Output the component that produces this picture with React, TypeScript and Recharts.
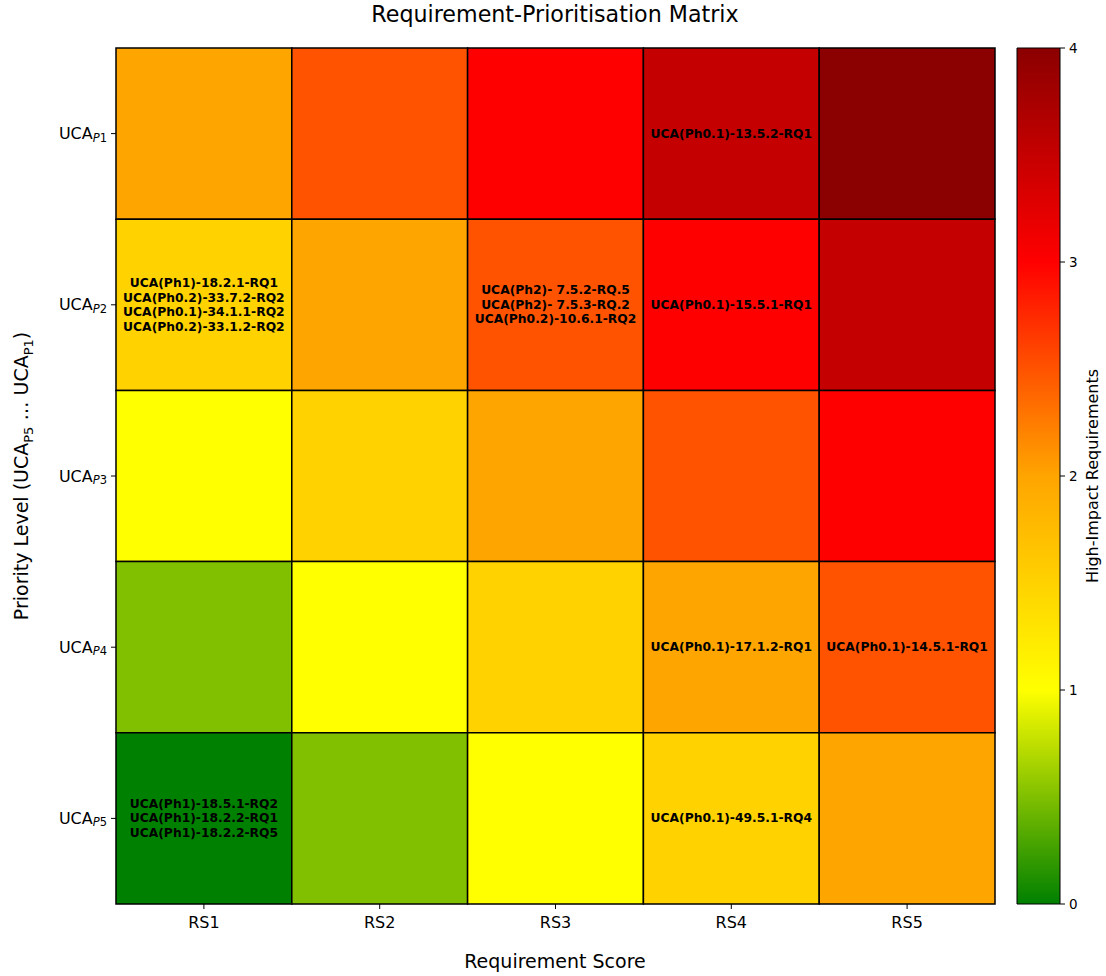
import React from 'react';
import { ComposedChart, XAxis, YAxis, ReferenceArea, Scatter } from 'recharts';

const FONT = "'DejaVu Sans', sans-serif";

// categories
const scoreLabels = ['RS1', 'RS2', 'RS3', 'RS4', 'RS5'];
const priorityLabels = ['P1', 'P2', 'P3', 'P4', 'P5']; // top to bottom

// High-impact requirement values per priority row (RS1..RS5)
const rowP1 = [2, 2.5, 3, 3.5, 4];
const rowP2 = [1.5, 2, 2.5, 3, 3.5];
const rowP3 = [1, 1.5, 2, 2.5, 3];
const rowP4 = [0.5, 1, 1.5, 2, 2.5];
const rowP5 = [0, 0.5, 1, 1.5, 2];
const rows = [rowP1, rowP2, rowP3, rowP4, rowP5];

// annotations: [scoreIndex, priorityIndex, lines]
const annP1RS4 = ['UCA(Ph0.1)-13.5.2-RQ1'];
const annP2RS1 = ['UCA(Ph1)-18.2.1-RQ1', 'UCA(Ph0.2)-33.7.2-RQ2', 'UCA(Ph0.1)-34.1.1-RQ2', 'UCA(Ph0.2)-33.1.2-RQ2'];
const annP2RS3 = ['UCA(Ph2)- 7.5.2-RQ.5', 'UCA(Ph2)- 7.5.3-RQ.2', 'UCA(Ph0.2)-10.6.1-RQ2'];
const annP2RS4 = ['UCA(Ph0.1)-15.5.1-RQ1'];
const annP4RS4 = ['UCA(Ph0.1)-17.1.2-RQ1'];
const annP4RS5 = ['UCA(Ph0.1)-14.5.1-RQ1'];
const annP5RS1 = ['UCA(Ph1)-18.5.1-RQ2', 'UCA(Ph1)-18.2.2-RQ1', 'UCA(Ph1)-18.2.2-RQ5'];
const annP5RS4 = ['UCA(Ph0.1)-49.5.1-RQ4'];
const annotations: [number, number, string[]][] = [
  [3, 0, annP1RS4],
  [0, 1, annP2RS1],
  [2, 1, annP2RS3],
  [3, 1, annP2RS4],
  [3, 3, annP4RS4],
  [4, 3, annP4RS5],
  [0, 4, annP5RS1],
  [3, 4, annP5RS4],
];

const cbTicks = [0, 1, 2, 3, 4];

// colormap stops: green -> yellow -> orange -> red -> darkred
const cmapStops: [number, number, number][] = [
  [0, 128, 0],
  [255, 255, 0],
  [255, 165, 0],
  [255, 0, 0],
  [139, 0, 0],
];

function cmap(v: number): string {
  const t = Math.max(0, Math.min(4, v));
  const i = Math.min(3, Math.floor(t));
  const f = t - i;
  const a = cmapStops[i];
  const b = cmapStops[i + 1];
  const c = a.map((av, k) => Math.round(av + (b[k] - av) * f));
  return `rgb(${c[0]},${c[1]},${c[2]})`;
}

const cells: { x1: number; x2: number; y1: number; y2: number; v: number }[] = [];
rows.forEach((row, p) => {
  row.forEach((v, s) => {
    cells.push({ x1: s, x2: s + 1, y1: 4 - p, y2: 5 - p, v });
  });
});

const labelData = annotations.map(([s, p, lines]) => ({ x: s + 0.5, y: 4.5 - p, lines }));
const cbData = [{ x: 0.5, y: 2 }];

const YTick = (props: any) => {
  const { x, y, payload } = props;
  const idx = Math.round(4.5 - payload.value);
  const lab = priorityLabels[idx] || '';
  return (
    <text x={x} y={y} textAnchor="end" dominantBaseline="central" fontSize={16} fill="#000" fontFamily={FONT}>
      UCA
      <tspan fontSize={11.5} fontStyle="italic" dy={4}>{lab.charAt(0)}</tspan>
      <tspan fontSize={11.5}>{lab.slice(1)}</tspan>
    </text>
  );
};

const LabelShape = (props: any) => {
  const { cx, cy, payload } = props;
  const lines: string[] = payload.lines;
  const lh = 14.6;
  const start = cy - ((lines.length - 1) * lh) / 2;
  return (
    <text textAnchor="middle" fontSize={12.3} fontWeight="bold" fill="#000" fontFamily={FONT}>
      {lines.map((l, i) => (
        <tspan key={i} x={cx} y={start + i * lh} dominantBaseline="central">{l}</tspan>
      ))}
    </text>
  );
};

const NoShape = () => <g />;

export default function App() {
  return (
    <div style={{ position: 'absolute', left: 0, top: 0, width: 1106, height: 976, background: '#fff', fontFamily: FONT }}>
      <div style={{ position: 'absolute', left: 0, top: 0 }}>
        <ComposedChart width={1106} height={976} margin={{ top: 48, right: 111, bottom: 42, left: 56 }} data={labelData}>
          <XAxis
            type="number"
            dataKey="x"
            domain={[0, 5]}
            ticks={[0.5, 1.5, 2.5, 3.5, 4.5]}
            tickFormatter={(v: number) => scoreLabels[Math.round(v - 0.5)]}
            height={30}
            tickSize={5}
            tickMargin={8}
            axisLine={false}
            tickLine={{ stroke: '#000' }}
            tick={{ fontSize: 16, fill: '#000', fontFamily: FONT }}
            allowDataOverflow
          />
          <YAxis
            type="number"
            dataKey="y"
            domain={[0, 5]}
            ticks={[0.5, 1.5, 2.5, 3.5, 4.5]}
            width={60}
            tickSize={5}
            tickMargin={4}
            axisLine={false}
            tickLine={{ stroke: '#000' }}
            tick={<YTick />}
            allowDataOverflow
          />
          {cells.map((c, i) => (
            <ReferenceArea
              key={i}
              x1={c.x1}
              x2={c.x2}
              y1={c.y1}
              y2={c.y2}
              fill={cmap(c.v)}
              fillOpacity={1}
              stroke="#000"
              strokeWidth={1.5}
              ifOverflow="visible"
            />
          ))}
          <Scatter data={labelData} dataKey="y" shape={<LabelShape />} isAnimationActive={false} />
        </ComposedChart>
      </div>
      <div style={{ position: 'absolute', left: 0, top: 0 }}>
        <ComposedChart width={1106} height={976} margin={{ top: 48, right: 0, bottom: 72, left: 1017 }} data={cbData}>
          <defs>
            <linearGradient id="cbGrad" x1="0" y1="0" x2="0" y2="1">
              <stop offset="0" stopColor="rgb(139,0,0)" />
              <stop offset="0.25" stopColor="rgb(255,0,0)" />
              <stop offset="0.5" stopColor="rgb(255,165,0)" />
              <stop offset="0.75" stopColor="rgb(255,255,0)" />
              <stop offset="1" stopColor="rgb(0,128,0)" />
            </linearGradient>
          </defs>
          <XAxis type="number" dataKey="x" domain={[0, 1]} hide />
          <YAxis
            type="number"
            dataKey="y"
            orientation="right"
            domain={[0, 4]}
            ticks={cbTicks}
            width={46}
            tickSize={5}
            tickMargin={4}
            axisLine={false}
            tickLine={{ stroke: '#000' }}
            tick={{ fontSize: 13.5, fill: '#000', fontFamily: FONT }}
          />
          <ReferenceArea x1={0} x2={1} y1={0} y2={4} fill="url(#cbGrad)" fillOpacity={1} stroke="#000" strokeWidth={1} ifOverflow="visible" />
          <Scatter data={cbData} dataKey="y" shape={<NoShape />} isAnimationActive={false} />
        </ComposedChart>
      </div>
      <svg width={1106} height={976} style={{ position: 'absolute', left: 0, top: 0, pointerEvents: 'none' }}>
        <text x={555} y={22} textAnchor="middle" fontSize={22.2} fill="#000" fontFamily={FONT}>
          Requirement-Prioritisation Matrix
        </text>
        <text x={555} y={968} textAnchor="middle" fontSize={19} fill="#000" fontFamily={FONT}>
          Requirement Score
        </text>
        <text transform="translate(28,476) rotate(-90)" textAnchor="middle" fontSize={19} fill="#000" fontFamily={FONT}>
          Priority Level (UCA
          <tspan fontSize={13} dy={5}>P5</tspan>
          <tspan dy={-5}> … UCA</tspan>
          <tspan fontSize={13} dy={5}>P1</tspan>
          <tspan dy={-5}>)</tspan>
        </text>
        <text transform="translate(1098,476) rotate(-90)" textAnchor="middle" fontSize={16} fill="#000" fontFamily={FONT}>
          High-Impact Requirements
        </text>
      </svg>
    </div>
  );
}
